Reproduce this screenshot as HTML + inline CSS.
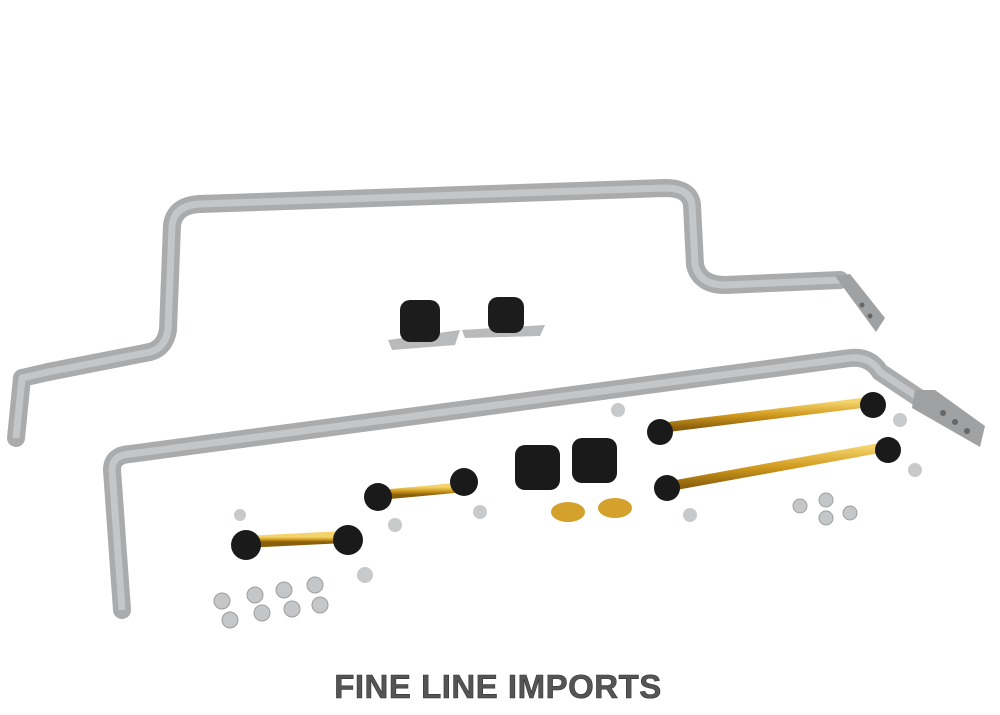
<!DOCTYPE html>
<html><head><style>
html,body{margin:0;padding:0;background:#fff;width:1000px;height:715px;overflow:hidden}
</style></head><body>
<svg width="1000" height="715" viewBox="0 0 1000 715" xmlns="http://www.w3.org/2000/svg">
<defs>
<linearGradient id="gold" x1="0" y1="0" x2="0" y2="1"><stop offset="0" stop-color="#f3d36a"/><stop offset="0.5" stop-color="#d19a1e"/><stop offset="1" stop-color="#8a5f0c"/></linearGradient>
</defs>
<!-- upper bar -->
<path d="M16 438 L22 378 L48 372 L150 352 Q165 348 168 330 L172 225 Q175 205 200 204 L665 188 Q690 188 692 205 L695 265 Q700 285 725 285 L840 280" fill="none" stroke="#a9abad" stroke-width="18" stroke-linejoin="round" stroke-linecap="round"/>
<path d="M16 438 L22 378 L48 372 L150 352 Q165 348 168 330 L172 225 Q175 205 200 204 L665 188 Q690 188 692 205 L695 265 Q700 285 725 285 L840 280" fill="none" stroke="#c4c6c8" stroke-width="7" stroke-linejoin="round"/>
<path d="M835 276 L850 274 L885 318 L876 332 Z" fill="#9fa1a3"/>
<circle cx="862" cy="305" r="2.5" fill="#666"/><circle cx="870" cy="316" r="2.5" fill="#666"/>
<!-- lower bar -->
<path d="M122 610 L112 470 Q112 455 130 454 L850 358 Q870 356 880 372 L922 400" fill="none" stroke="#a9abad" stroke-width="18" stroke-linejoin="round" stroke-linecap="round"/>
<path d="M122 610 L112 470 Q112 455 130 454 L850 358 Q870 356 880 372 L922 400" fill="none" stroke="#c4c6c8" stroke-width="7" stroke-linejoin="round"/>
<path d="M915 390 L935 390 L985 426 L980 447 L912 408 Z" fill="#9fa1a3"/>
<circle cx="943" cy="413" r="3" fill="#666"/><circle cx="955" cy="422" r="3" fill="#666"/><circle cx="967" cy="431" r="3" fill="#666"/>
<!-- bushings upper -->
<path d="M388 340 L460 330 L455 345 L392 350Z" fill="#b8babb"/>
<rect x="400" y="300" width="40" height="42" rx="10" fill="#1c1c1c"/>
<path d="M462 330 L545 325 L540 336 L465 338Z" fill="#b8babb"/>
<rect x="488" y="297" width="36" height="36" rx="10" fill="#1c1c1c"/>
<!-- lower bushings -->
<rect x="515" y="445" width="45" height="45" rx="10" fill="#1a1a1a"/>
<rect x="572" y="438" width="45" height="45" rx="10" fill="#1a1a1a"/>
<ellipse cx="568" cy="512" rx="17" ry="10" fill="#d4a12c"/>
<ellipse cx="615" cy="508" rx="17" ry="10" fill="#d4a12c"/>
<!-- long links -->
<line x1="660" y1="428" x2="870" y2="402" stroke="url(#gold)" stroke-width="10"/>
<line x1="665" y1="487" x2="885" y2="447" stroke="url(#gold)" stroke-width="10"/>
<circle cx="660" cy="432" r="13" fill="#1a1a1a"/><circle cx="873" cy="405" r="13" fill="#1a1a1a"/>
<circle cx="667" cy="488" r="13" fill="#1a1a1a"/><circle cx="888" cy="450" r="13" fill="#1a1a1a"/>
<!-- short links -->
<line x1="380" y1="495" x2="465" y2="487" stroke="url(#gold)" stroke-width="10"/>
<line x1="245" y1="542" x2="345" y2="537" stroke="url(#gold)" stroke-width="12"/>
<circle cx="378" cy="497" r="14" fill="#1a1a1a"/><circle cx="464" cy="482" r="14" fill="#1a1a1a"/>
<circle cx="246" cy="545" r="15" fill="#1a1a1a"/><circle cx="348" cy="540" r="15" fill="#1a1a1a"/>
<g fill="#c8c9ca"><circle cx="240" cy="515" r="6"/><circle cx="365" cy="575" r="8"/><circle cx="395" cy="525" r="7"/><circle cx="480" cy="512" r="7"/><circle cx="618" cy="410" r="7"/><circle cx="900" cy="420" r="7"/><circle cx="690" cy="515" r="7"/><circle cx="915" cy="470" r="7"/></g>
<!-- washers -->
<g fill="#c4c6c8" stroke="#9c9ea0"><circle cx="222" cy="601" r="8"/><circle cx="255" cy="595" r="8"/><circle cx="284" cy="590" r="8"/><circle cx="315" cy="585" r="8"/><circle cx="230" cy="620" r="8"/><circle cx="262" cy="613" r="8"/><circle cx="292" cy="609" r="8"/><circle cx="320" cy="605" r="8"/><circle cx="800" cy="506" r="7"/><circle cx="826" cy="500" r="7"/><circle cx="826" cy="518" r="7"/><circle cx="850" cy="513" r="7"/></g>
<text x="498" y="698" text-anchor="middle" font-family="Liberation Sans, sans-serif" font-weight="bold" font-size="33" fill="#555" stroke="#333" stroke-width="0.6" letter-spacing="0.5">FINE LINE IMPORTS</text>
</svg>
</body></html>
